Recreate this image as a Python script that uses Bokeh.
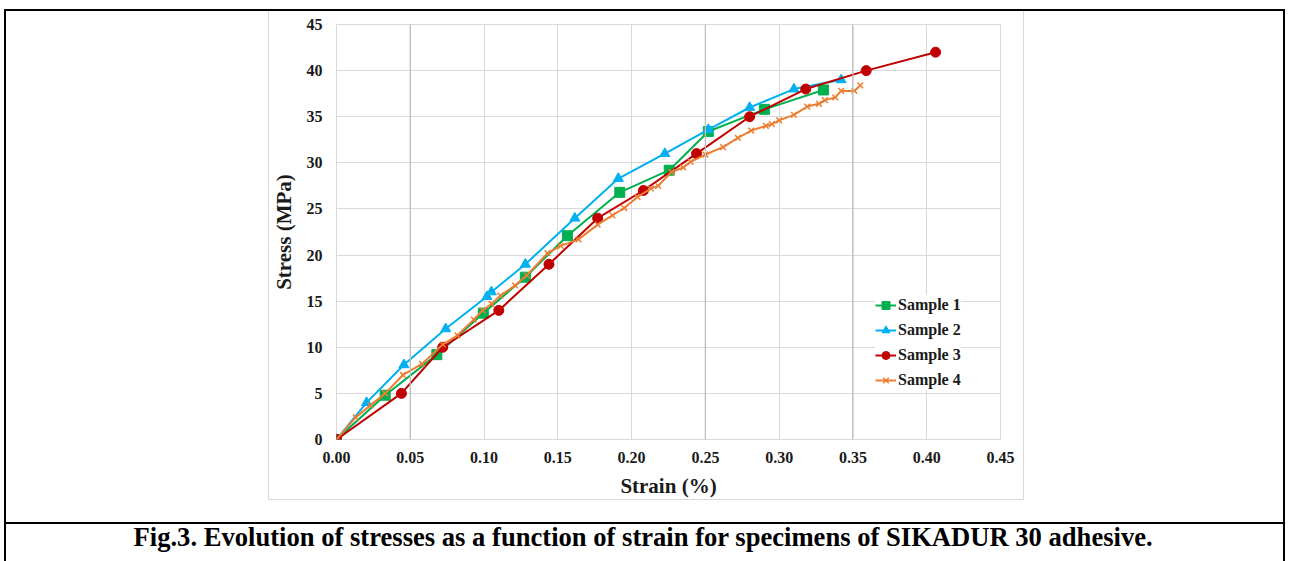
from bokeh.plotting import figure
from bokeh.models import (Range1d, FixedTicker, NumeralTickFormatter, Legend, LegendItem,
                          Span, Title)
from bokeh.embed import file_html
from bokeh.resources import INLINE

# ---------------- data ----------------
x_ticks = [0.00, 0.05, 0.10, 0.15, 0.20, 0.25, 0.30, 0.35, 0.40, 0.45]
y_ticks = [0, 5, 10, 15, 20, 25, 30, 35, 40, 45]

series_names = ["Sample 1", "Sample 2", "Sample 3", "Sample 4"]

s1_strain = [0, 0.033, 0.068, 0.0995, 0.128, 0.1565, 0.192, 0.2255, 0.252, 0.290, 0.330]
s1_stress = [0, 4.8, 9.2, 13.7, 17.6, 22.1, 26.8, 29.2, 33.4, 35.8, 37.9]

s2_strain = [0, 0.0204, 0.0457, 0.074, 0.102, 0.105, 0.128, 0.1615, 0.191, 0.2225,
             0.252, 0.280, 0.310, 0.342]
s2_stress = [0, 4.0, 8.1, 12.0, 15.5, 16.0, 19.0, 24.0, 28.3, 31.0, 33.6, 36.0, 38.0, 39.0]

s3_strain = [0, 0.044, 0.072, 0.110, 0.144, 0.177, 0.208, 0.244, 0.280, 0.318, 0.359, 0.406]
s3_stress = [0, 5.0, 10.0, 14.0, 19.0, 24.0, 27.0, 31.0, 35.0, 38.0, 40.0, 42.0]

s4_strain = [0, 0.013, 0.023, 0.033, 0.045, 0.058, 0.072, 0.082, 0.093, 0.099, 0.105,
             0.111, 0.121, 0.129, 0.143, 0.152, 0.164, 0.177, 0.187, 0.195, 0.204,
             0.213, 0.218, 0.227, 0.235, 0.240, 0.250, 0.262, 0.272, 0.281, 0.291,
             0.295, 0.300, 0.310, 0.319, 0.327, 0.331, 0.338, 0.342, 0.351, 0.355]
s4_stress = [0, 2.4, 3.7, 5.0, 7.0, 8.2, 10.3, 11.3, 13.0, 14.0, 14.7,
             15.6, 16.7, 17.8, 20.2, 21.0, 21.7, 23.3, 24.3, 25.1, 26.3,
             27.2, 27.5, 29.0, 29.5, 30.1, 30.9, 31.7, 32.7, 33.5, 34.0,
             34.2, 34.6, 35.2, 36.1, 36.4, 36.8, 37.1, 37.8, 37.8, 38.4]

x_label = "Strain (%)"
y_label = "Stress (MPa)"
caption = "Fig.3. Evolution of stresses as a function of strain for specimens of SIKADUR 30 adhesive."

# ---------------- figure ----------------
FONT = "Liberation Serif"
W, H = 1289, 561
FRAME_LEFT = 336

# decorative lines (outer black cell borders, light-grey chart box) drawn as CSS background
bg = ", ".join([
    "linear-gradient(#000,#000) 4px 9px / 1281px 2px no-repeat",
    "linear-gradient(#000,#000) 4px 522px / 1281px 2px no-repeat",
    "linear-gradient(#000,#000) 4px 9px / 2px 552px no-repeat",
    "linear-gradient(#000,#000) 1283px 9px / 2px 552px no-repeat",
    "linear-gradient(#d9d9d9,#d9d9d9) 268px 10px / 1px 490px no-repeat",
    "linear-gradient(#d9d9d9,#d9d9d9) 1023px 10px / 1px 490px no-repeat",
    "linear-gradient(#d9d9d9,#d9d9d9) 268px 499px / 756px 1px no-repeat",
    "white",
])

p = figure(width=W, height=H, output_backend="svg", toolbar_location=None,
           x_range=Range1d(0, 0.45), y_range=Range1d(0, 45),
           styles={"background": bg})
p.min_border_left = FRAME_LEFT
p.min_border_right = W - 1000
p.min_border_top = 24
p.min_border_bottom = H - 439
p.outline_line_color = "#d9d9d9"
p.background_fill_color = "white"
p.border_fill_color = None

for ax in (p.xaxis[0], p.yaxis[0]):
    ax.axis_line_color = None
    ax.major_tick_line_color = None
    ax.minor_tick_line_color = None
    ax.major_tick_out = 0
    ax.major_tick_in = 0
    ax.minor_tick_out = 0
    ax.minor_tick_in = 0
    ax.major_label_text_font = FONT
    ax.major_label_text_font_style = "bold"
    ax.major_label_text_font_size = "16px"
    ax.major_label_text_color = "#1a1a1a"
    ax.axis_label_text_font = FONT
    ax.axis_label_text_font_style = "bold"
    ax.axis_label_text_font_size = "21px"
    ax.axis_label_text_color = "#1a1a1a"

p.xaxis[0].ticker = FixedTicker(ticks=x_ticks)
p.xaxis[0].formatter = NumeralTickFormatter(format="0.00")
p.xaxis[0].major_label_standoff = 12
p.xaxis[0].axis_label = x_label
p.xaxis[0].axis_label_standoff = 8
p.yaxis[0].ticker = FixedTicker(ticks=y_ticks)
p.yaxis[0].major_label_standoff = 14
p.yaxis[0].axis_label = y_label
p.yaxis[0].axis_label_standoff = 8

p.xgrid[0].ticker = FixedTicker(ticks=x_ticks)
p.ygrid[0].ticker = FixedTicker(ticks=y_ticks)
p.xgrid[0].grid_line_color = "#d9d9d9"
p.ygrid[0].grid_line_color = "#d9d9d9"

# slightly darker vertical gridlines as in the reference
for xv in (x_ticks[1], x_ticks[5], x_ticks[7]):
    p.add_layout(Span(location=xv, dimension="height", line_color="#bdbdbd", line_width=1.3))

colors = ["#00b050", "#00b0f0", "#c00000", "#ed7d31"]
markers = ["square", "triangle", "circle", "x"]
sizes = [10, 10, 10, 8]
data = [(s1_strain, s1_stress), (s2_strain, s2_stress), (s3_strain, s3_stress), (s4_strain, s4_stress)]

items = []
for name, (xs, ys), c, m, s in zip(series_names, data, colors, markers, sizes):
    r1 = p.line(xs, ys, line_color=c, line_width=2)
    r2 = p.scatter(xs, ys, marker=m, size=s, fill_color=c, line_color=c,
                   line_width=1.5 if m == "x" else 1)
    items.append(LegendItem(label=name, renderers=[r1, r2]))

legend = Legend(items=items, location=(539, 49), padding=2, margin=0, spacing=5,
                glyph_width=21, glyph_height=20, label_height=20, label_standoff=2,
                label_text_font=FONT, label_text_font_style="bold",
                label_text_font_size="16px", label_text_color="#1a1a1a",
                border_line_color=None, background_fill_color="white",
                background_fill_alpha=1.0)
p.add_layout(legend, "center")

# ---------------- caption (title below the x axis) ----------------
spacer = Title(text=" ", text_font_size="1px", standoff=7)
p.add_layout(spacer, "below")
cap = Title(text=caption, align="left", offset=133 - FRAME_LEFT, standoff=19,
            text_font=FONT, text_font_style="bold", text_font_size="26.6px",
            text_color="black")
p.add_layout(cap, "below")

open("out.html", "w").write(file_html(p, INLINE))
